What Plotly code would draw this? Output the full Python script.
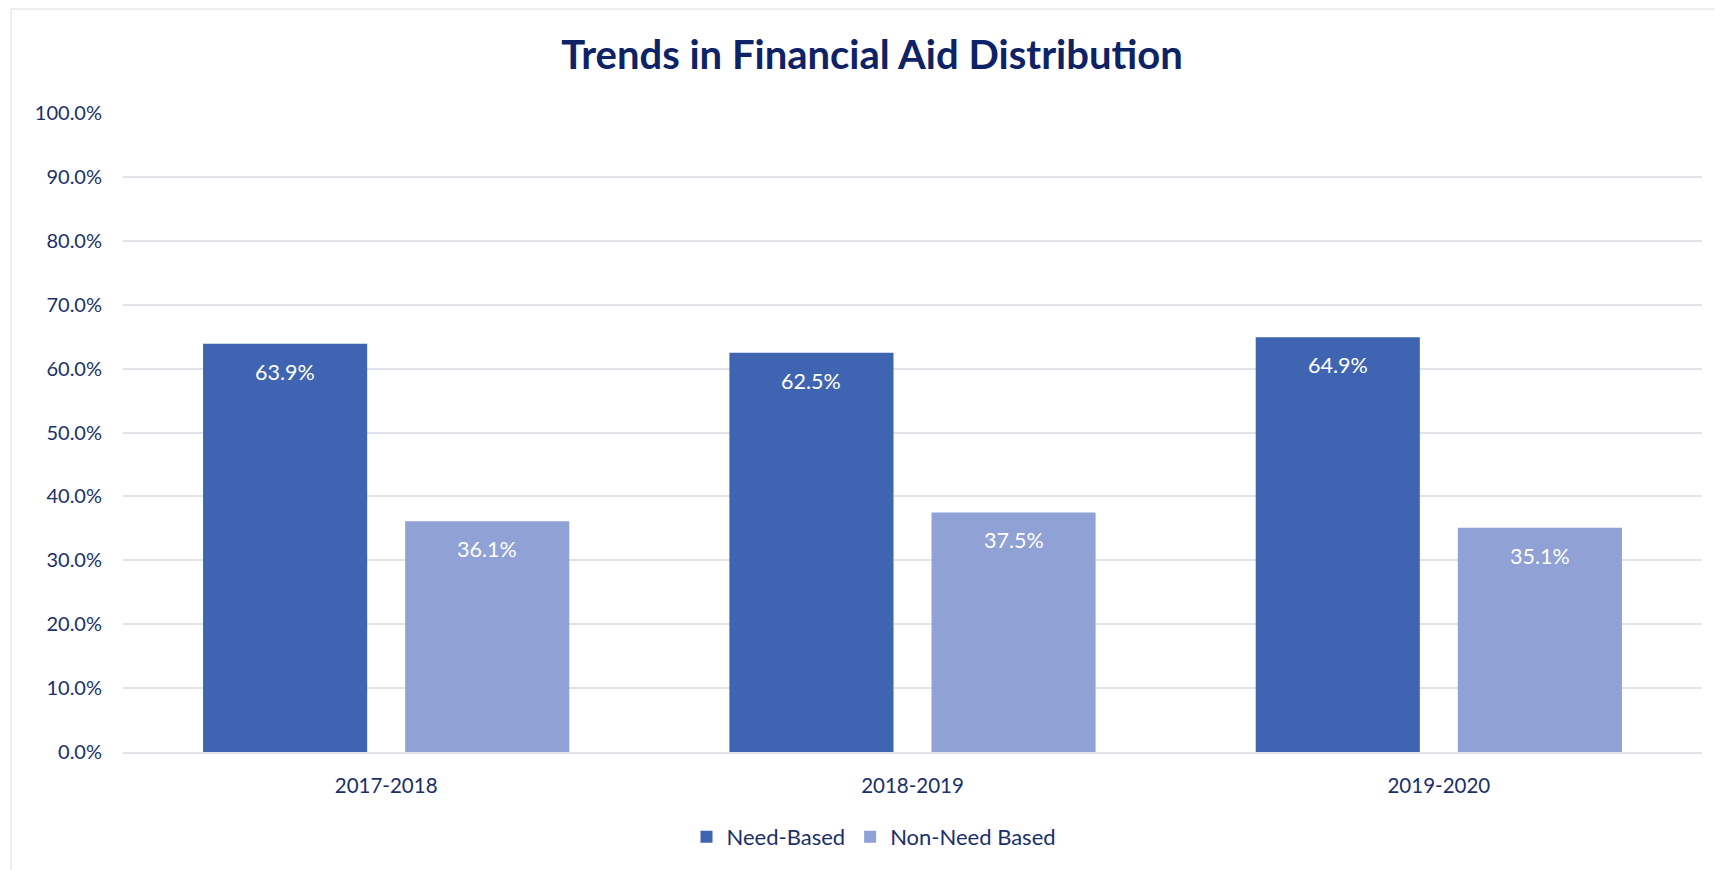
import plotly.graph_objects as go

# ---- data ----
categories = ["2017-2018", "2018-2019", "2019-2020"]
need_based = [63.9, 62.5, 64.9]
non_need_based = [36.1, 37.5, 35.1]
series_names = ["Need-Based", "Non-Need Based"]
y_ticks = [0, 10, 20, 30, 40, 50, 60, 70, 80, 90, 100]
y_tick_labels = [f"{v:.1f}%" for v in y_ticks]
title_text = "Trends in Financial Aid Distribution"

# ---- style ----
W, H = 1722, 870
OFF = 8  # page body margin
ML, MR, MT, MB = 123 - OFF, 20 + OFF, 113 - OFF, 118 + OFF
FONT = "Lato, Carlito, Calibri, sans-serif"
TEXT_COLOR = "#1B2F6A"
TITLE_COLOR = "#0D2366"
GRID = "#E0E3EA"
NEED_COLOR = "#3F65B2"
NONNEED_COLOR = "#8FA1D5"
BARGAP = 0.232
GROUPGAP = 0.188

pw = W - ML - MR
ph = H - MT - MB

def px_x(px):
    return (px - OFF - ML) / pw

def px_y(py):
    return 1 - (py - OFF - MT) / ph

fig = go.Figure()
series = [need_based, non_need_based]
colors = [NEED_COLOR, NONNEED_COLOR]
for name, vals, col in zip(series_names, series, colors):
    fig.add_trace(go.Bar(
        x=categories, y=vals, name=name,
        marker=dict(color=col, line=dict(width=0)),
        hoverinfo="skip",
    ))

# value labels, placed inside the top of each bar
cat_px = pw / len(categories)
slot_px = cat_px * (1 - BARGAP) / 2
for i, vals in enumerate(series):
    for c, v in zip(categories, vals):
        fig.add_annotation(
            x=c, y=v, xref="x", yref="y",
            text=f"{v:.1f}%", showarrow=False,
            xshift=(i - 0.5) * slot_px, yshift=-28,
            xanchor="center", yanchor="middle",
            font=dict(color="white", size=21.5, family=FONT),
        )

fig.update_layout(
    width=W, height=H,
    margin=dict(l=ML, r=MR, t=MT, b=MB),
    paper_bgcolor="white", plot_bgcolor="white",
    barmode="group", bargap=BARGAP, bargroupgap=GROUPGAP,
    font=dict(family=FONT, color=TEXT_COLOR, size=18),
    title=dict(text=f"<b>{title_text}</b>", x=(872 - OFF) / W, xanchor="center",
               y=1 - (55 - OFF) / H, yanchor="middle", yref="container",
               font=dict(size=40, color=TITLE_COLOR, family=FONT)),
    showlegend=True,
    legend=dict(orientation="h", x=px_x(874), xanchor="center",
                y=px_y(837), yanchor="middle",
                font=dict(size=22, color=TEXT_COLOR, family=FONT),
                itemclick=False, itemdoubleclick=False,
                traceorder="normal"),
)

fig.update_yaxes(
    range=[0, 100], tickvals=y_ticks, ticktext=y_tick_labels,
    showgrid=True, gridcolor=GRID, gridwidth=1.5,
    zeroline=False, showline=False, ticks="",
    ticklabelstandoff=20,
    tickfont=dict(size=20, color=TEXT_COLOR, family=FONT),
)
fig.update_xaxes(
    showline=True, linecolor=GRID, linewidth=1.5, ticks="",
    showgrid=False, ticklabelstandoff=15,
    tickfont=dict(size=20.5, color=TEXT_COLOR, family=FONT),
)

# chart-area border (cut off at the right and bottom like the reference)
fig.add_shape(type="rect", xref="paper", yref="paper",
              x0=px_x(11), x1=px_x(W + 40), y0=px_y(H + 40), y1=px_y(9),
              line=dict(color="#D9DCE3", width=1), fillcolor="rgba(0,0,0,0)",
              layer="below")

fig.write_html("out.html")
